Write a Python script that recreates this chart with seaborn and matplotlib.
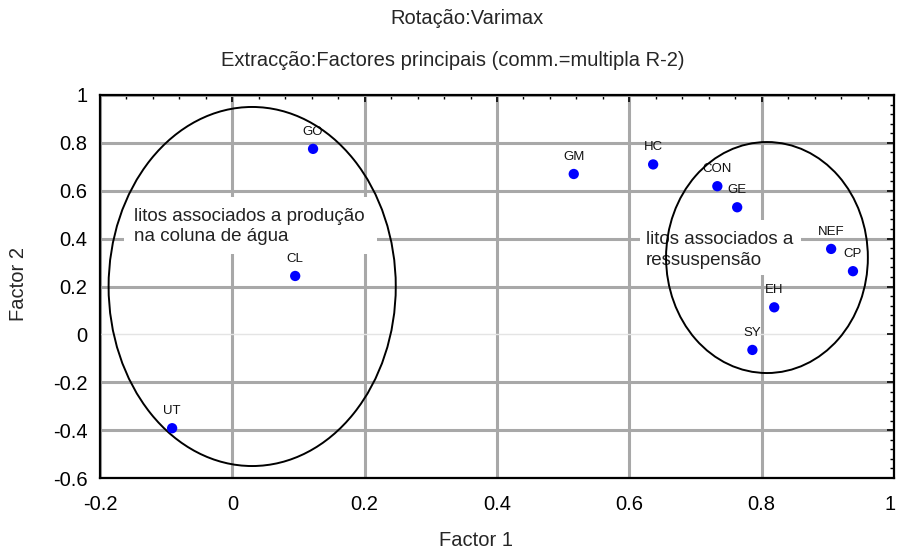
import matplotlib
matplotlib.use("Agg")
import matplotlib.pyplot as plt
import matplotlib.transforms as mtransforms
import seaborn as sns
import pandas as pd
from matplotlib.patches import Ellipse, Rectangle
from matplotlib.ticker import MultipleLocator, FuncFormatter

# ---- data ----
labels = ["GO", "CL", "UT", "GM", "HC", "CON", "GE", "NEF", "CP", "EH", "SY"]
factor1 = [0.122, 0.095, -0.091, 0.516, 0.636, 0.733, 0.763, 0.905, 0.938, 0.819, 0.786]
factor2 = [0.775, 0.244, -0.392, 0.670, 0.710, 0.619, 0.531, 0.357, 0.264, 0.113, -0.065]
x_ticks = [-0.2, 0, 0.2, 0.4, 0.6, 0.8, 1]
y_ticks = [-0.6, -0.4, -0.2, 0, 0.2, 0.4, 0.6, 0.8, 1]
title1 = "Rotação:Varimax"
title2 = "Extracção:Factores principais (comm.=multipla R-2)"
group_text_left = "litos associados a produção\nna coluna de água"
group_text_right = "litos associados a\nressuspensão"

df = pd.DataFrame({"Factor 1": factor1, "Factor 2": factor2, "label": labels})

sns.set_theme(style="white")
plt.rcParams["font.family"] = ["Liberation Sans", "DejaVu Sans"]
plt.rcParams["axes.unicode_minus"] = False

fig = plt.figure(figsize=(8.98, 5.5), dpi=100)
ax = fig.add_axes([100 / 898, 1 - 478 / 550, 794 / 898, 383 / 550])

sns.scatterplot(data=df, x="Factor 1", y="Factor 2", ax=ax, color="#0000ff",
                edgecolor="none", s=55, zorder=6, legend=False)

for lx, ly, lab in zip(factor1, factor2, labels):
    ax.annotate(lab, (lx, ly), xytext=(0, 8), textcoords="offset points",
                ha="center", va="bottom", fontsize=9.5, color="#111111", zorder=3.5)

ax.set_xlim(-0.2, 1)
ax.set_ylim(-0.6, 1)
ax.set_xticks(x_ticks)
ax.set_yticks(y_ticks)
ax.xaxis.set_minor_locator(MultipleLocator(0.04))
ax.yaxis.set_minor_locator(MultipleLocator(0.04))
fmt = FuncFormatter(lambda v, p: ("%g" % round(v, 2)))
ax.xaxis.set_major_formatter(fmt)
ax.yaxis.set_major_formatter(fmt)

ax.grid(True, which="major", color="#a8a8a8", linewidth=2.2)
ax.set_axisbelow(True)

ax.tick_params(which="both", direction="in", top=True, right=True, colors="black")
ax.tick_params(which="major", length=5, width=1.2, labelsize=14.5)
ax.tick_params(which="minor", length=3, width=1.0)
ax.tick_params(axis="x", which="major", pad=12)
ax.tick_params(axis="y", which="major", pad=9)
for sp in ax.spines.values():
    sp.set_color("black")
    sp.set_linewidth(1.6)

fig.canvas.draw()
for t in ax.yaxis.get_major_ticks():
    if abs(t.get_loc()) < 1e-9:
        t.gridline.set_color("#e4e4e4")
        t.gridline.set_linewidth(1.0)
last_lab = ax.get_xticklabels()[-1]
last_lab.set_transform(last_lab.get_transform() +
                       mtransforms.ScaledTranslation(-4 / 100, 0, fig.dpi_scale_trans))

ax.set_xlabel("")
ax.set_ylabel("")

# white boxes behind group texts
ax.add_patch(Rectangle((-0.163, 0.334), 0.382, 0.238, facecolor="white",
                       edgecolor="none", zorder=2))
ax.add_patch(Rectangle((0.616, 0.246), 0.244, 0.230, facecolor="white",
                       edgecolor="none", zorder=2))
ax.text(-0.148, 0.45, group_text_left, ha="left", va="center", fontsize=13.5,
        color="#222222", linespacing=1.25, zorder=3)
ax.text(0.625, 0.353, group_text_right, ha="left", va="center", fontsize=13.5,
        color="#222222", linespacing=1.3, zorder=3)

# ellipses
ax.add_patch(Ellipse((0.03, 0.2), 0.434, 1.50, facecolor="none",
                     edgecolor="black", linewidth=1.4, zorder=4))
ax.add_patch(Ellipse((0.808, 0.321), 0.305, 0.965, facecolor="none",
                     edgecolor="black", linewidth=1.4, zorder=4))

fig.text(467 / 898, 1 - 19 / 550, title1, ha="center", va="center", fontsize=14.5)
fig.text(453 / 898, 1 - 60 / 550, title2, ha="center", va="center", fontsize=14.5)
fig.text(476 / 898, 1 - 540 / 550, "Factor 1", ha="center", va="center", fontsize=14.5)
fig.text(18 / 898, 1 - 284 / 550, "Factor 2", ha="center", va="center",
         fontsize=14.5, rotation=90)

fig.savefig("out.png", dpi=100, facecolor="white")
